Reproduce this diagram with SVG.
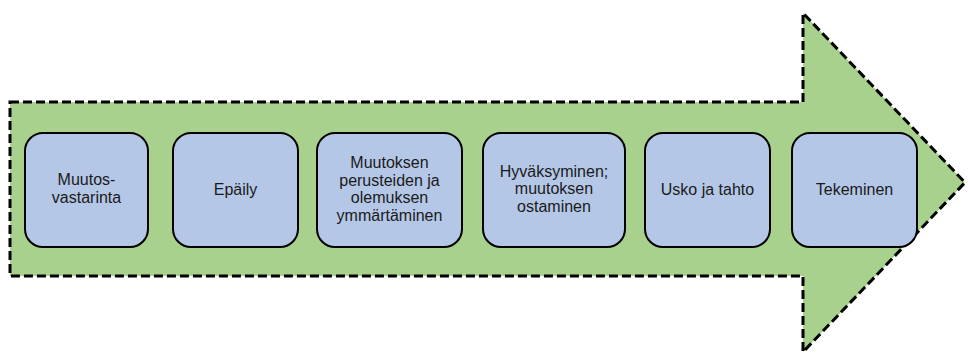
<svg xmlns="http://www.w3.org/2000/svg" width="968" height="361" viewBox="0 0 968 361">
<style>
.arrow{fill:#A9D18E;stroke:#000;stroke-width:3;stroke-dasharray:9 4;stroke-linejoin:miter}
.box{fill:#B4C7E7;stroke:#000;stroke-width:2}
.lbl{font-family:"Liberation Sans",Arial,sans-serif;font-size:16px;fill:#1a1a1a;text-anchor:middle}
</style>
<rect width="968" height="361" fill="#fff"/>
<g id="arrow">
<polygon class="arrow" points="10,102 803,102 803,13 965,182.5 803,352 803,276 10,276"/>
</g>
<g id="n1">
<rect class="box" x="25" y="133" width="123" height="114" rx="18"/>
<text class="lbl" x="86.5" y="185">Muutos-</text>
<text class="lbl" x="86.5" y="202.5">vastarinta</text>
</g>
<g id="n2">
<rect class="box" x="173" y="133" width="125" height="114" rx="18"/>
<text class="lbl" x="235.5" y="195">Epäily</text>
</g>
<g id="n3">
<rect class="box" x="317" y="133" width="145" height="114" rx="18"/>
<text class="lbl" x="389.5" y="168">Muutoksen</text>
<text class="lbl" x="389.5" y="185.5">perusteiden ja</text>
<text class="lbl" x="389.5" y="203">olemuksen</text>
<text class="lbl" x="389.5" y="220.5">ymmärtäminen</text>
</g>
<g id="n4">
<rect class="box" x="483" y="133" width="142" height="114" rx="18"/>
<text class="lbl" x="554" y="176.5">Hyväksyminen;</text>
<text class="lbl" x="554" y="194">muutoksen</text>
<text class="lbl" x="554" y="211.5">ostaminen</text>
</g>
<g id="n5">
<rect class="box" x="645" y="133" width="125" height="114" rx="18"/>
<text class="lbl" x="707.5" y="195">Usko ja tahto</text>
</g>
<g id="n6">
<rect class="box" x="792" y="133" width="125" height="114" rx="18"/>
<text class="lbl" x="854.5" y="195">Tekeminen</text>
</g>
<g id="connectors"></g>
</svg>
